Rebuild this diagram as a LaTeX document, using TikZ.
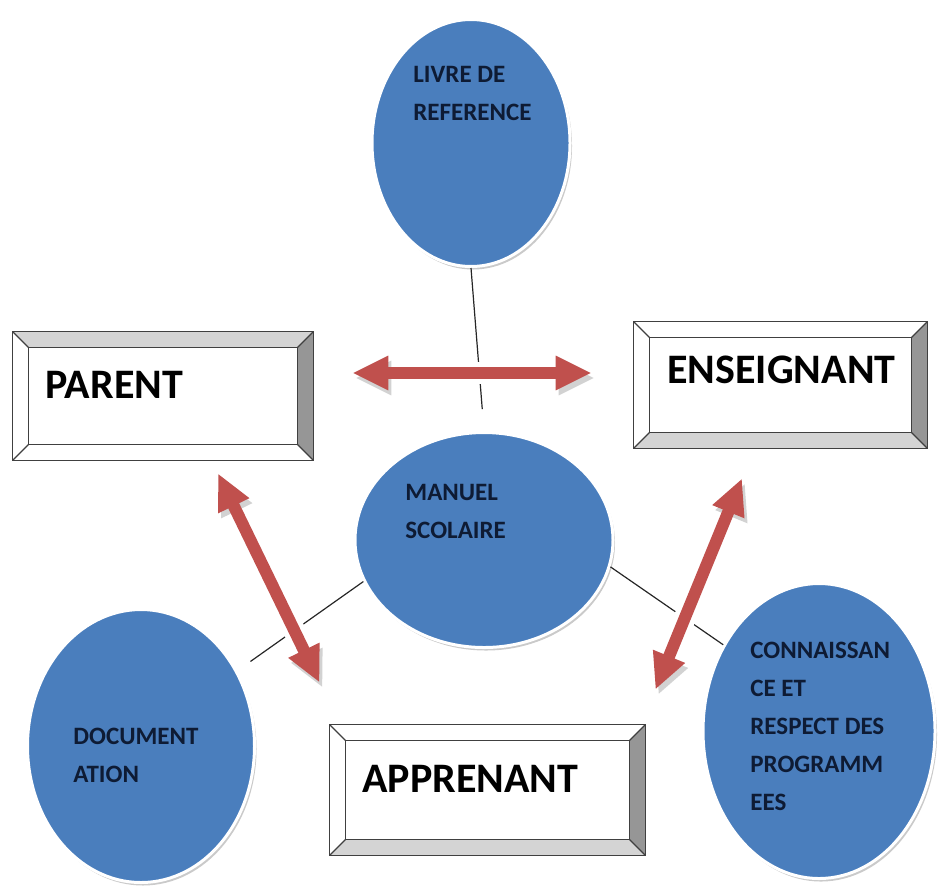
\documentclass[tikz,border=0pt]{standalone}
\usepackage{fontspec}
\setmainfont{Carlito}
\usetikzlibrary{shapes.geometric, arrows.meta, shadows}

\definecolor{ovalblue}{RGB}{74,126,189}
\definecolor{arrowred}{RGB}{192,80,77}
\definecolor{inknavy}{RGB}{14,27,52}
\definecolor{bevellight}{RGB}{212,212,212}
\definecolor{beveldark}{RGB}{150,150,150}

% bevelled frame round a box node: node, top, right, bottom, left colour
\newcommand{\bevelbox}[5]{%
    \fill[#2] (#1.north west) -- (#1.north east)
        -- ([shift={(-8pt,-8pt)}]#1.north east) -- ([shift={(8pt,-8pt)}]#1.north west) -- cycle;
    \fill[#3] (#1.north east) -- (#1.south east)
        -- ([shift={(-8pt,8pt)}]#1.south east) -- ([shift={(-8pt,-8pt)}]#1.north east) -- cycle;
    \fill[#4] (#1.south east) -- (#1.south west)
        -- ([shift={(8pt,8pt)}]#1.south west) -- ([shift={(-8pt,8pt)}]#1.south east) -- cycle;
    \fill[#5] (#1.south west) -- (#1.north west)
        -- ([shift={(8pt,-8pt)}]#1.north west) -- ([shift={(8pt,8pt)}]#1.south west) -- cycle;
    \draw[bevelline] (#1.north west) rectangle (#1.south east);
    \draw[bevelline] ([shift={(8pt,-8pt)}]#1.north west) rectangle ([shift={(-8pt,8pt)}]#1.south east);
    \draw[bevelline] (#1.north west) -- ([shift={(8pt,-8pt)}]#1.north west)
        (#1.north east) -- ([shift={(-8pt,-8pt)}]#1.north east)
        (#1.south east) -- ([shift={(-8pt,8pt)}]#1.south east)
        (#1.south west) -- ([shift={(8pt,8pt)}]#1.south west);
}

\begin{document}
\begin{tikzpicture}[x=0.5pt, y=-0.5pt,
    oval/.style={ellipse, fill=ovalblue, draw=white, line width=1.5pt, inner sep=0pt,
        drop shadow={shadow xshift=1pt, shadow yshift=-1.5pt, fill=gray!70, opacity=0.6}},
    ovaltext/.style={font=\fontsize{12.5}{19}\selectfont\bfseries, text=inknavy,
        align=left, inner sep=0pt, anchor=base west},
    box/.style={rectangle, inner sep=0pt},
    boxtext/.style={font=\fontsize{21}{25}\selectfont\bfseries, text=black,
        inner sep=0pt, anchor=base west},
    bevelline/.style={draw=black!75, line width=0.6pt},
    link/.style={draw=black!85, line width=0.6pt},
    dblarrow/.style={draw=arrowred, line width=6pt,
        {Triangle[width=16pt,length=18pt]}-{Triangle[width=16pt,length=18pt]},
        preaction={draw=white, line width=11pt, arrows=-},
        preaction={draw=gray!35, transform canvas={shift={(1.5pt,-2.5pt)}}}}]

    \useasboundingbox (0,0) rectangle (940,889);

    % Add the ovals
    \node[oval, minimum width=99pt, minimum height=123.5pt] (livre) at (471,143) {};
    \node[oval, minimum width=129pt, minimum height=107.5pt] (manuel) at (484,540) {};
    \node[oval, minimum width=113.5pt, minimum height=136.5pt] (docu) at (141,746) {};
    \node[oval, minimum width=116pt, minimum height=147.5pt] (conn) at (819,731) {};

    % text sits on the baseline of its last line
    \node[ovaltext] (livre_txt) at (413,120) {LIVRE DE\\REFERENCE};
    \node[ovaltext] (manuel_txt) at (405,538) {MANUEL\\SCOLAIRE};
    \node[ovaltext] (docu_txt) at (73,782) {DOCUMENT\\ATION};
    \node[ovaltext] (conn_txt) at (750,810) {CONNAISSAN\\CE ET\\RESPECT DES\\PROGRAMM\\EES};

    % Link the ovals
    \draw[link, shorten >=11pt] (livre.south) -- (manuel.north);
    \draw[link, shorten >=8pt] (manuel.199) -- (docu.38);
    \draw[link] (manuel.348) -- (conn.138);

    % Add the boxes
    \node[box, minimum width=150pt, minimum height=64pt] (parent) at (163,396) {};
    \node[box, minimum width=146.5pt, minimum height=63pt] (enseignant) at (780.5,385) {};
    \node[box, minimum width=157.5pt, minimum height=65pt] (apprenant) at (487.5,790) {};

    \bevelbox{parent}{bevellight}{beveldark}{white}{white}
    \bevelbox{enseignant}{white}{beveldark}{bevellight}{white}
    \bevelbox{apprenant}{white}{beveldark}{bevellight}{white}

    \node[boxtext] (parent_txt) at (45,398) {PARENT};
    \node[boxtext] (enseignant_txt) at (667,383) {ENSEIGNANT};
    \node[boxtext] (apprenant_txt) at (362,792) {APPRENANT};

    % Connect the boxes with double arrows
    \draw[dblarrow] ([shift={(19.5pt,11.5pt)}]parent.east)
        -- ([shift={(-21pt,6pt)}]enseignant.west);
    \draw[dblarrow] ([shift={(27.5pt,-6.5pt)}]parent.south)
        -- ([shift={(-5pt,21pt)}]apprenant.north west);
    \draw[dblarrow] ([shift={(-19.25pt,-15pt)}]enseignant.south)
        -- ([shift={(5pt,17.5pt)}]apprenant.north east);
\end{tikzpicture}
\end{document}
